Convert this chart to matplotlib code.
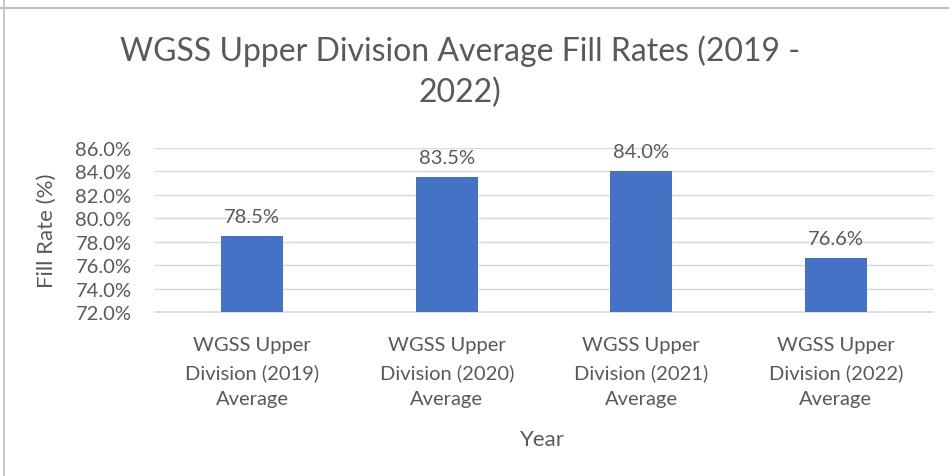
import matplotlib
matplotlib.use("Agg")
import matplotlib.pyplot as plt
from matplotlib.lines import Line2D

categories = ["WGSS Upper\nDivision (2019)\nAverage",
              "WGSS Upper\nDivision (2020)\nAverage",
              "WGSS Upper\nDivision (2021)\nAverage",
              "WGSS Upper\nDivision (2022)\nAverage"]
values = [78.5, 83.5, 84.0, 76.6]
yticks = [72, 74, 76, 78, 80, 82, 84, 86]

plt.rcParams['font.family'] = ['Lato', 'DejaVu Sans']
txt = '#595959'

fig = plt.figure(figsize=(9.49, 4.77), dpi=100)
W, H = 949, 477
ax = fig.add_axes([155 / W, 1 - 313 / H, (933 - 155) / W, (313 - 149) / H])

x = list(range(len(categories)))
ax.bar(x, values, width=0.32, color='#4472C4', zorder=3)
ax.set_ylim(72, 86)
ax.set_xlim(-0.5, len(categories) - 0.5)
ax.set_yticks(yticks)
ax.set_yticklabels([f"{v:.1f}%" for v in yticks], fontsize=14.5, color=txt)
ax.set_xticks(x)
ax.set_xticklabels(categories, fontsize=14.5, color=txt, linespacing=1.65)
ax.tick_params(axis='both', length=0)
ax.tick_params(axis='x', pad=17.5)
ax.tick_params(axis='y', pad=17)
ax.grid(axis='y', color='#d9d9d9', linewidth=1, zorder=0)
for s in ['top', 'right', 'left']:
    ax.spines[s].set_visible(False)
ax.spines['bottom'].set_color('#d9d9d9')
ax.spines['bottom'].set_linewidth(1.2)

for xi, v in zip(x, values):
    ax.annotate(f"{v:.1f}%", (xi, v), xytext=(0, 8), textcoords='offset points',
                ha='center', va='bottom', fontsize=14.5, color=txt)

ax.set_ylabel("Fill Rate (%)", fontsize=16, color=txt)
ax.yaxis.set_label_coords((57 - 155) / 778, 0.5)
ax.set_xlabel("Year", fontsize=16, color=txt)
ax.xaxis.set_label_coords((542 - 155) / 778, (313 - 430) / 164)

fig.text(460 / W, 1 - 72 / H, "WGSS Upper Division Average Fill Rates (2019 -\n2022)",
         ha='center', va='center', fontsize=23, color=txt, linespacing=1.45)

fig.add_artist(Line2D([0, 1], [1 - 9 / H, 1 - 9 / H], transform=fig.transFigure,
                      color='#bfbfbf', linewidth=1.5))
fig.add_artist(Line2D([4 / W, 4 / W], [0, 1], transform=fig.transFigure,
                      color='#bfbfbf', linewidth=1.2))

fig.savefig("out.png", dpi=100)
